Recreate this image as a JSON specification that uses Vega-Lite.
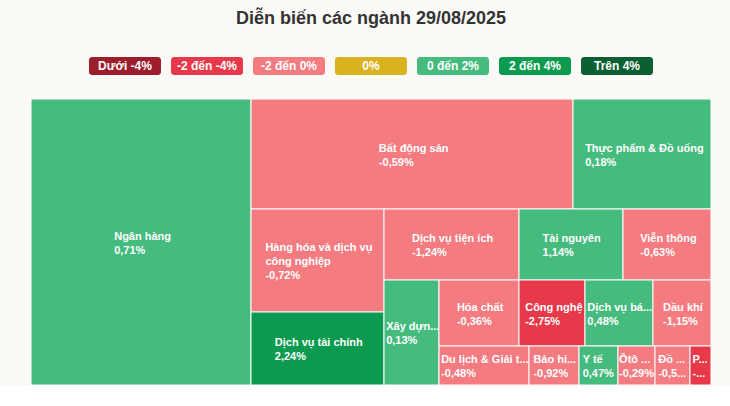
{
  "$schema": "https://vega.github.io/schema/vega-lite/v6.json",
  "background": "#fbfaf7",
  "padding": {"left": 30, "right": 20, "top": 10, "bottom": 0},
  "title": {
    "text": "Diễn biến các ngành 29/08/2025",
    "font": "Liberation Sans",
    "fontSize": 18,
    "fontWeight": "bold",
    "color": "#333333",
    "anchor": "middle",
    "offset": 29
  },
  "config": {"view": {"stroke": null}, "concat": {"spacing": 23}},
  "datasets": {
    "legend": [
      {"bucket": "Dưới -4%"},
      {"bucket": "-2 đến -4%"},
      {"bucket": "-2 đến 0%"},
      {"bucket": "0%"},
      {"bucket": "0 đến 2%"},
      {"bucket": "2 đến 4%"},
      {"bucket": "Trên 4%"}
    ],
    "sectors": [
      {"name": "Ngân hàng", "pct": "0,71%", "bucket": "0 đến 2%", "x0": 0, "x1": 220, "y0": 0, "y1": 286},
      {"name": "Bất động sản", "pct": "-0,59%", "bucket": "-2 đến 0%", "x0": 220, "x1": 542, "y0": 0, "y1": 110},
      {"name": "Thực phẩm & Đồ uống", "pct": "0,18%", "bucket": "0 đến 2%", "x0": 542, "x1": 680, "y0": 0, "y1": 110},
      {"name": "Hàng hóa và dịch vụ\ncông nghiệp", "pct": "-0,72%", "bucket": "-2 đến 0%", "x0": 220, "x1": 353, "y0": 110, "y1": 213},
      {"name": "Dịch vụ tài chính", "pct": "2,24%", "bucket": "2 đến 4%", "x0": 220, "x1": 353, "y0": 213, "y1": 286},
      {"name": "Dịch vụ tiện ích", "pct": "-1,24%", "bucket": "-2 đến 0%", "x0": 353, "x1": 488, "y0": 110, "y1": 181},
      {"name": "Tài nguyên", "pct": "1,14%", "bucket": "0 đến 2%", "x0": 488, "x1": 592, "y0": 110, "y1": 181},
      {"name": "Viễn thông", "pct": "-0,63%", "bucket": "-2 đến 0%", "x0": 592, "x1": 680, "y0": 110, "y1": 181},
      {"name": "Xây dựn...", "pct": "0,13%", "bucket": "0 đến 2%", "x0": 353, "x1": 408, "y0": 181, "y1": 286},
      {"name": "Hóa chất", "pct": "-0,36%", "bucket": "-2 đến 0%", "x0": 408, "x1": 488, "y0": 181, "y1": 247},
      {"name": "Công nghệ", "pct": "-2,75%", "bucket": "-2 đến -4%", "x0": 488, "x1": 554, "y0": 181, "y1": 247},
      {"name": "Dịch vụ bá...", "pct": "0,48%", "bucket": "0 đến 2%", "x0": 554, "x1": 622, "y0": 181, "y1": 247},
      {"name": "Dầu khí", "pct": "-1,15%", "bucket": "-2 đến 0%", "x0": 622, "x1": 680, "y0": 181, "y1": 247},
      {"name": "Du lịch & Giải t...", "pct": "-0,48%", "bucket": "-2 đến 0%", "x0": 408, "x1": 498, "y0": 247, "y1": 286},
      {"name": "Bảo hi...", "pct": "-0,92%", "bucket": "-2 đến 0%", "x0": 498, "x1": 548, "y0": 247, "y1": 286},
      {"name": "Y tế", "pct": "0,47%", "bucket": "0 đến 2%", "x0": 548, "x1": 587, "y0": 247, "y1": 286},
      {"name": "Ôtô ...", "pct": "-0,29%", "bucket": "-2 đến 0%", "x0": 587, "x1": 624, "y0": 247, "y1": 286},
      {"name": "Đồ ...", "pct": "-0,5...", "bucket": "-2 đến 0%", "x0": 624, "x1": 659, "y0": 247, "y1": 286},
      {"name": "P...", "pct": "-...", "bucket": "-2 đến -4%", "x0": 659, "x1": 680, "y0": 247, "y1": 286}
    ]
  },
  "vconcat": [
    {
      "width": 680,
      "height": 18,
      "data": {"name": "legend"},
      "layer": [
        {
          "mark": {"type": "rect", "cornerRadius": 3},
          "encoding": {
            "x": {"field": "bucket", "type": "nominal", "axis": null,
              "scale": {"domain": ["Dưới -4%", "-2 đến -4%", "-2 đến 0%", "0%", "0 đến 2%", "2 đến 4%", "Trên 4%"], "paddingInner": 0.122, "paddingOuter": 0.707}},
            "color": {"field": "bucket", "type": "nominal", "legend": null,
              "scale": {"domain": ["Dưới -4%", "-2 đến -4%", "-2 đến 0%", "0%", "0 đến 2%", "2 đến 4%", "Trên 4%"],
                "range": ["#9c1d2b", "#e8394a", "#f47b80", "#d8b21f", "#45bb7e", "#0b9a4f", "#0b5f32"]}}
          }
        },
        {
          "mark": {"type": "text", "color": "white", "font": "Liberation Sans", "fontWeight": "bold", "fontSize": 12, "baseline": "middle"},
          "encoding": {
            "x": {"field": "bucket", "type": "nominal", "axis": null},
            "text": {"field": "bucket"}
          }
        }
      ]
    },
    {
      "width": 680,
      "height": 286,
      "data": {"name": "sectors"},
      "transform": [
        {"calculate": "(datum.x0 + datum.x1) / 2", "as": "cx"},
        {"calculate": "(datum.y0 + datum.y1) / 2", "as": "cy"},
        {"calculate": "split(datum.name, '\\n')[0]", "as": "l1"},
        {"calculate": "6.3 * length(datum.l1) - 3.1 * (length(datum.l1) - length(replace(datum.l1, regexp('[iíìỉĩịlt ,.fjrI-]', 'g'), ''))) + 3.2 * (length(datum.l1) - length(replace(datum.l1, regexp('[mwMW%&]', 'g'), '')))", "as": "w1"},
        {"calculate": "6.3 * length(datum.pct) - 3.1 * (length(datum.pct) - length(replace(datum.pct, regexp('[iíìỉĩịlt ,.fjrI-]', 'g'), ''))) + 3.2 * (length(datum.pct) - length(replace(datum.pct, regexp('[mwMW%&]', 'g'), '')))", "as": "w2"},
        {"calculate": "min(max(datum.w1, datum.w2), datum.x1 - datum.x0 - 2)", "as": "bw"},
        {"calculate": "datum.cx - datum.bw / 2", "as": "lx"},
        {"calculate": "datum.name + '\\n' + datum.pct", "as": "label"},
        {"calculate": "datum.cy - 7 * (length(split(datum.label, '\\n')) - 1) + 1.5", "as": "ly"}
      ],
      "layer": [
        {
          "mark": {"type": "rect", "stroke": "white", "strokeWidth": 1},
          "encoding": {
            "x": {"field": "x0", "type": "quantitative", "axis": null, "scale": {"domain": [0, 680], "nice": false, "zero": false}},
            "x2": {"field": "x1"},
            "y": {"field": "y0", "type": "quantitative", "axis": null, "scale": {"domain": [0, 286], "nice": false, "zero": false, "reverse": true}},
            "y2": {"field": "y1"},
            "color": {"field": "bucket", "type": "nominal", "legend": null},
            "tooltip": [{"field": "name"}, {"field": "pct"}]
          }
        },
        {
          "mark": {"type": "text", "align": "left", "baseline": "middle", "font": "Liberation Sans", "fontWeight": "bold", "fontSize": 11, "color": "white", "lineHeight": 14, "lineBreak": "\n"},
          "encoding": {
            "x": {"field": "lx", "type": "quantitative"},
            "y": {"field": "ly", "type": "quantitative"},
            "text": {"field": "label"}
          }
        }
      ]
    }
  ]
}
